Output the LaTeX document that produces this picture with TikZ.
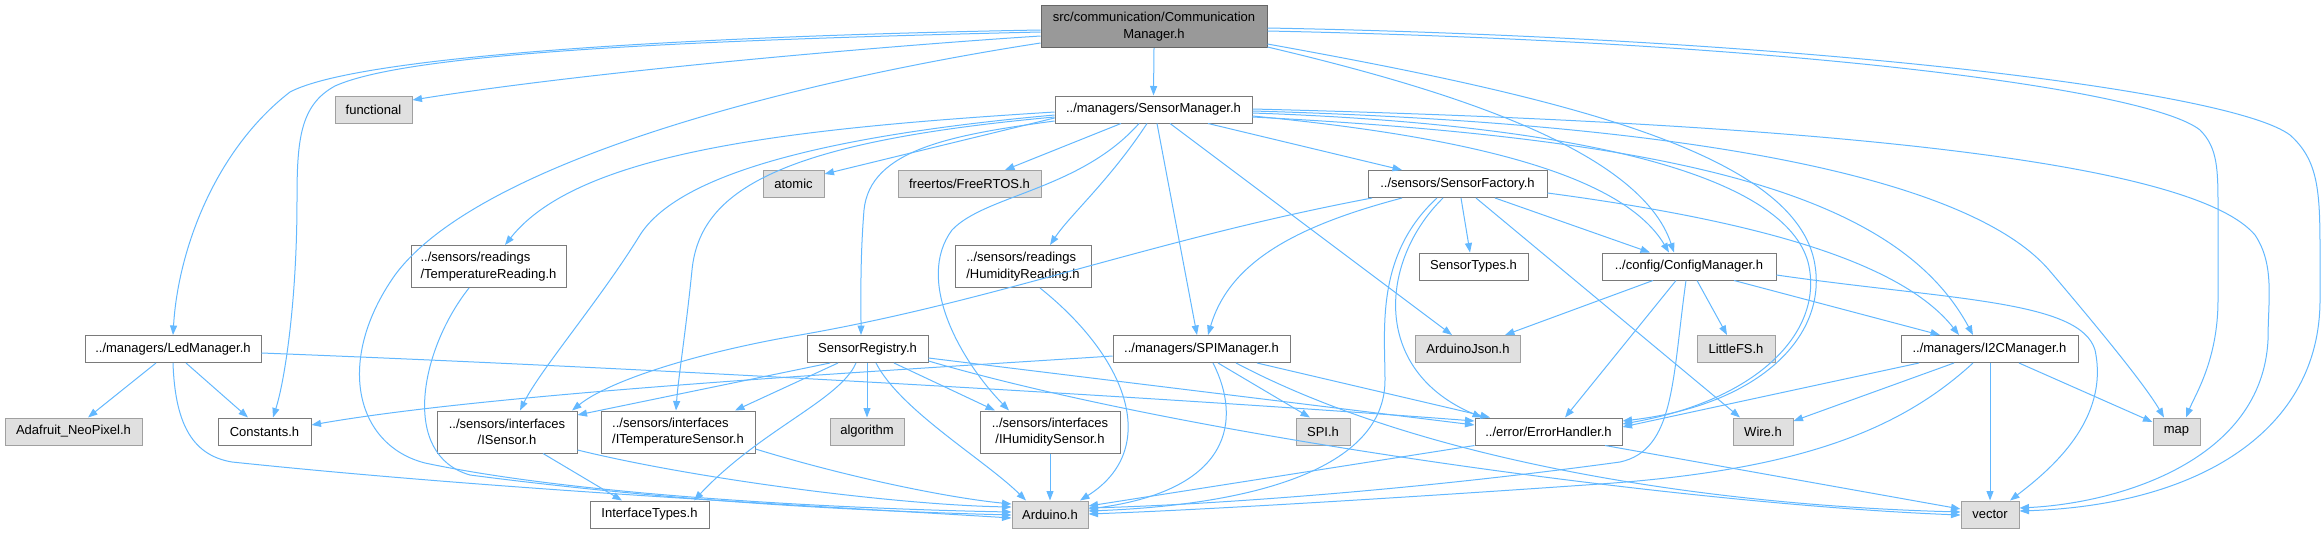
\documentclass[tikz,border=0pt]{standalone}
\usepackage{fontspec}
\setmainfont{Liberation Sans}
\usetikzlibrary{arrows.meta,calc}
\definecolor{edgec}{HTML}{63B8FF}
\definecolor{bdw}{HTML}{7A7A7A}
\definecolor{bds}{HTML}{A0A0A0}
\definecolor{fills}{HTML}{E0E0E0}
\definecolor{fillr}{HTML}{999999}
\definecolor{bdr}{HTML}{666666}
\tikzset{
  nd/.style={draw=bdw, fill=white, line width=1pt, inner sep=0pt, align=center, text=black,
    font=\fontsize{13}{16.5}\selectfont, minimum height=27pt},
  nd2/.style={nd, minimum height=42pt},
  ndl/.style={nd2, align=left},
  sys/.style={nd, draw=bds, fill=fills},
  rootn/.style={nd2, draw=bdr, fill=fillr},
  e/.style={draw=edgec, line width=1pt, -{Triangle[length=9.5pt,width=7pt]}}
}
\begin{document}
\begin{tikzpicture}[x=1pt,y=-1pt]
\useasboundingbox (0,0) rectangle (2321,533);
% nodes
\node[rootn, minimum width=226pt] (CM) at (1154,26.5) {src/communication/Communication\\Manager.h};
\node[nd, minimum width=197pt] (SM) at (1153.5,109.5) {../managers/SensorManager.h};
\node[sys, minimum width=77pt] (functional) at (373.5,109.5) {functional};
\node[sys, minimum width=61pt] (atomic) at (793.5,184) {atomic};
\node[sys, minimum width=143pt] (FreeRTOS) at (969.5,184) {freertos/FreeRTOS.h};
\node[nd, minimum width=179pt] (SF) at (1457.5,184) {../sensors/SensorFactory.h};
\node[ndl, minimum width=155pt] (TempR) at (488.5,266.5) {../sensors/readings\\/TemperatureReading.h};
\node[ndl, minimum width=136pt] (HumR) at (1023,266.5) {../sensors/readings\\/HumidityReading.h};
\node[nd, minimum width=109pt] (SensorTypes) at (1473.5,266.5) {SensorTypes.h};
\node[nd, minimum width=174pt] (Cfg) at (1689,266.5) {../config/ConfigManager.h};
\node[nd, minimum width=176pt] (Led) at (173,349) {../managers/LedManager.h};
\node[nd, minimum width=121pt] (SReg) at (867.5,349) {SensorRegistry.h};
\node[nd, minimum width=177pt] (SPIM) at (1201.5,349) {../managers/SPIManager.h};
\node[sys, minimum width=105pt] (AJson) at (1468,349) {ArduinoJson.h};
\node[sys, minimum width=78pt] (LittleFS) at (1736,349) {LittleFS.h};
\node[nd, minimum width=177pt] (I2C) at (1989.5,349) {../managers/I2CManager.h};
\node[sys, minimum width=137pt] (Adafruit) at (73.5,431.5) {Adafruit\_NeoPixel.h};
\node[nd, minimum width=93pt] (Constants) at (264.5,431.5) {Constants.h};
\node[nd2, minimum width=140pt] (ISensor) at (507,432) {../sensors/interfaces\\/ISensor.h};
\node[ndl, minimum width=154pt] (ITemp) at (678,432) {../sensors/interfaces\\/ITemperatureSensor.h};
\node[sys, minimum width=74pt] (algorithm) at (867,431.5) {algorithm};
\node[nd2, minimum width=140pt] (IHum) at (1050,432) {../sensors/interfaces\\/IHumiditySensor.h};
\node[sys, minimum width=54pt] (SPIh) at (1323,431.5) {SPI.h};
\node[nd, minimum width=147pt] (Err) at (1548.5,431.5) {../error/ErrorHandler.h};
\node[sys, minimum width=60pt] (Wire) at (1763,431.5) {Wire.h};
\node[sys, minimum width=47pt] (map) at (2176.5,431.5) {map};
\node[nd, minimum width=119pt] (IType) at (649.5,514.5) {InterfaceTypes.h};
\node[sys, minimum width=76pt] (Arduino) at (1050,514.5) {Arduino.h};
\node[sys, minimum width=58pt] (vector) at (1990,514.5) {vector};
% CommunicationManager
\draw[e] (CM.south) -- (SM.north);
\draw[e] (CM.west |- 0,36) .. controls (900,45) and (600,70) .. (functional.east |- 0,100);
\draw[e] (CM.west |- 0,30) .. controls (700,36) and (360,55) .. (290,92) .. controls (215,150) and (178,250) .. (Led.north);
\draw[e] (CM.west |- 0,32) .. controls (700,40) and (410,52) .. (335,86) .. controls (300,105) and (297,140) .. (297,200) .. controls (297,300) and (285,380) .. (Constants.north -| 273,0);
\draw[e] (CM.west |- 0,43) .. controls (800,80) and (480,160) .. (395,275) .. controls (335,360) and (355,445) .. (425,463) .. controls (600,500) and (900,510) .. (Arduino.west |- 0,512);
\draw[e] (CM.east |- 0,47) .. controls (1450,90) and (1640,150) .. (Cfg.north -| 1674,0);
\draw[e] (CM.east |- 0,44) .. controls (1550,95) and (1790,150) .. (1814,260) .. controls (1830,335) and (1760,405) .. (Err.east |- 0,421);
\draw[e] (CM.east |- 0,31) .. controls (1800,42) and (2150,90) .. (2200,130) .. controls (2218,148) and (2218,170) .. (2218,210) -- (2218,300) .. controls (2218,360) and (2195,395) .. (map.north -| 2186,0);
\draw[e] (CM.east |- 0,28) .. controls (1800,38) and (2230,90) .. (2290,135) .. controls (2318,160) and (2320,190) .. (2320,250) -- (2320,300) .. controls (2320,430) and (2200,505) .. (vector.east |- 0,511);
% SensorManager
\draw[e] (SM.west |- 0,118) -- (atomic.east |- 0,174);
\draw[e] (SM.south -| 1121,0) -- (FreeRTOS.north -| 1005,0);
\draw[e] (SM.south -| 1208,0) -- (SF.north -| 1402,0);
\draw[e] (SM.south -| 1147,0) .. controls (1110,180) and (1070,215) .. (HumR.north -| 1050,0);
\draw[e] (SM.south -| 1157,0) -- (SPIM.north -| 1197,0);
\draw[e] (SM.south -| 1170,0) -- (AJson.north -| 1452,0);
\draw[e] (SM.south -| 1139,0) .. controls (1080,190) and (985,195) .. (952,230) .. controls (915,280) and (960,360) .. (IHum.north -| 1009,0);
\draw[e] (SM.west |- 0,121) .. controls (950,135) and (870,150) .. (864,210) .. controls (860,260) and (861,300) .. (SReg.north -| 861,0);
\draw[e] (SM.west |- 0,112) .. controls (800,128) and (580,150) .. (TempR.north -| 505,0);
\draw[e] (SM.west |- 0,115) .. controls (800,138) and (675,180) .. (640,235) .. controls (600,300) and (540,370) .. (ISensor.north -| 520,0);
\draw[e] (SM.west |- 0,117) .. controls (780,142) and (700,190) .. (692,270) .. controls (686,330) and (678,380) .. (ITemp.north -| 676,0);
\draw[e] (SM.east |- 0,116) .. controls (1450,135) and (1620,170) .. (Cfg.north -| 1669,0);
\draw[e] (SM.east |- 0,113) .. controls (1600,125) and (1785,180) .. (1808,262) .. controls (1825,330) and (1760,400) .. (Err.east |- 0,424);
\draw[e] (SM.east |- 0,117) .. controls (1700,140) and (1900,200) .. (I2C.north -| 1973,0);
\draw[e] (SM.east |- 0,111) .. controls (1750,125) and (1980,190) .. (2049,270) .. controls (2100,330) and (2145,385) .. (map.north -| 2164,0);
\draw[e] (SM.east |- 0,109) .. controls (1900,125) and (2200,170) .. (2255,235) .. controls (2275,265) and (2268,300) .. (2268,340) .. controls (2262,460) and (2120,503) .. (vector.east |- 0,508);
% SensorFactory
\draw[e] (SF.south -| 1461,0) -- (SensorTypes.north -| 1470,0);
\draw[e] (SF.south -| 1495,0) -- (Cfg.north -| 1650,0);
\draw[e] (SF.east |- 0,193) .. controls (1750,220) and (1900,260) .. (I2C.north -| 1959,0);
\draw[e] (SF.south -| 1476,0) -- (Wire.north -| 1740,0);
\draw[e] (SF.south -| 1402,0) .. controls (1300,225) and (1230,260) .. (SPIM.north -| 1208,0);
\draw[e] (SF.south -| 1372,0) .. controls (1150,240) and (1000,300) .. (800,335) .. controls (700,352) and (610,380) .. (ISensor.north -| 572,0);
\draw[e] (SF.south -| 1443,0) .. controls (1380,260) and (1370,370) .. (Err.north -| 1482,0);
\draw[e] (SF.south -| 1437,0) .. controls (1375,255) and (1385,330) .. (1385,380) .. controls (1385,470) and (1250,505) .. (Arduino.east |- 0,511);
% ConfigManager
\draw[e] (Cfg.south -| 1653,0) -- (AJson.north -| 1505,0);
\draw[e] (Cfg.south -| 1697,0) -- (LittleFS.north -| 1727,0);
\draw[e] (Cfg.south -| 1734,0) -- (I2C.north -| 1940,0);
\draw[e] (Cfg.south -| 1676,0) -- (Err.north -| 1565,0);
\draw[e] (Cfg.south -| 1686,0) .. controls (1672,380) and (1675,450) .. (1620,462) .. controls (1400,492) and (1200,505) .. (Arduino.east |- 0,508);
\draw[e] (Cfg.east |- 0,275) .. controls (1950,300) and (2080,300) .. (2095,350) .. controls (2110,420) and (2050,470) .. (vector.north -| 2010,0);
% I2CManager
\draw[e] (I2C.south -| 1919,0) -- (Err.east |- 0,427);
\draw[e] (I2C.south -| 1954,0) -- (Wire.east |- 0,421);
\draw[e] (I2C.south -| 1973,0) .. controls (1900,430) and (1800,470) .. (1600,484) .. controls (1400,498) and (1200,510) .. (Arduino.east |- 0,514);
\draw[e] (I2C.south -| 1990,0) -- (vector.north -| 1990,0);
\draw[e] (I2C.south -| 2019,0) -- (map.west |- 0,422);
% SPIManager
\draw[e] (SPIM.west |- 0,356) .. controls (900,370) and (500,392) .. (Constants.east |- 0,425);
\draw[e] (SPIM.south -| 1218,0) -- (SPIh.north -| 1310,0);
\draw[e] (SPIM.south -| 1257,0) -- (Err.north -| 1490,0);
\draw[e] (SPIM.south -| 1213,0) .. controls (1242,420) and (1232,490) .. (Arduino.east |- 0,509);
\draw[e] (SPIM.south -| 1236,0) .. controls (1420,460) and (1700,505) .. (vector.west |- 0,512);
% SensorRegistry
\draw[e] (SReg.south -| 830,0) -- (ISensor.east |- 0,415);
\draw[e] (SReg.south -| 838,0) -- (ITemp.north -| 735,0);
\draw[e] (SReg.south -| 856,0) .. controls (840,400) and (760,430) .. (IType.north -| 694,0);
\draw[e] (SReg.south -| 867,0) -- (algorithm.north -| 867,0);
\draw[e] (SReg.south -| 876,0) .. controls (900,410) and (985,460) .. (Arduino.north -| 1026,0);
\draw[e] (SReg.south -| 894,0) -- (IHum.north -| 995,0);
\draw[e] (SReg.east |- 0,358) -- (Err.west |- 0,425);
\draw[e] (SReg.east |- 0,361) .. controls (1200,440) and (1700,505) .. (vector.west |- 0,515);
% LedManager
\draw[e] (Led.south -| 156,0) -- (Adafruit.north -| 88,0);
\draw[e] (Led.south -| 186,0) -- (Constants.north -| 248,0);
\draw[e] (Led.south) .. controls (175,420) and (190,455) .. (232,462) .. controls (500,490) and (800,505) .. (Arduino.west |- 0,518);
\draw[e] (Led.east |- 0,353) .. controls (700,370) and (1200,400) .. (Err.west |- 0,421);
% interfaces, readings, error handler
\draw[e] (ISensor.south -| 543,0) -- (IType.north -| 622,0);
\draw[e] (ISensor.east |- 0,450) .. controls (700,480) and (900,505) .. (Arduino.west |- 0,507);
\draw[e] (ITemp.east |- 0,449) .. controls (850,478) and (950,498) .. (Arduino.west |- 0,504);
\draw[e] (TempR.south -| 469,0) .. controls (420,350) and (400,455) .. (470,475) .. controls (700,505) and (900,512) .. (Arduino.west |- 0,515);
\draw[e] (HumR.south -| 1040,0) .. controls (1130,360) and (1160,450) .. (Arduino.north -| 1080,0);
\draw[e] (IHum.south) -- (Arduino.north);
\draw[e] (Err.south west) -- (Arduino.east |- 0,506);
\draw[e] (Err.south -| 1605,0) -- (vector.west |- 0,509);
\end{tikzpicture}
\end{document}
